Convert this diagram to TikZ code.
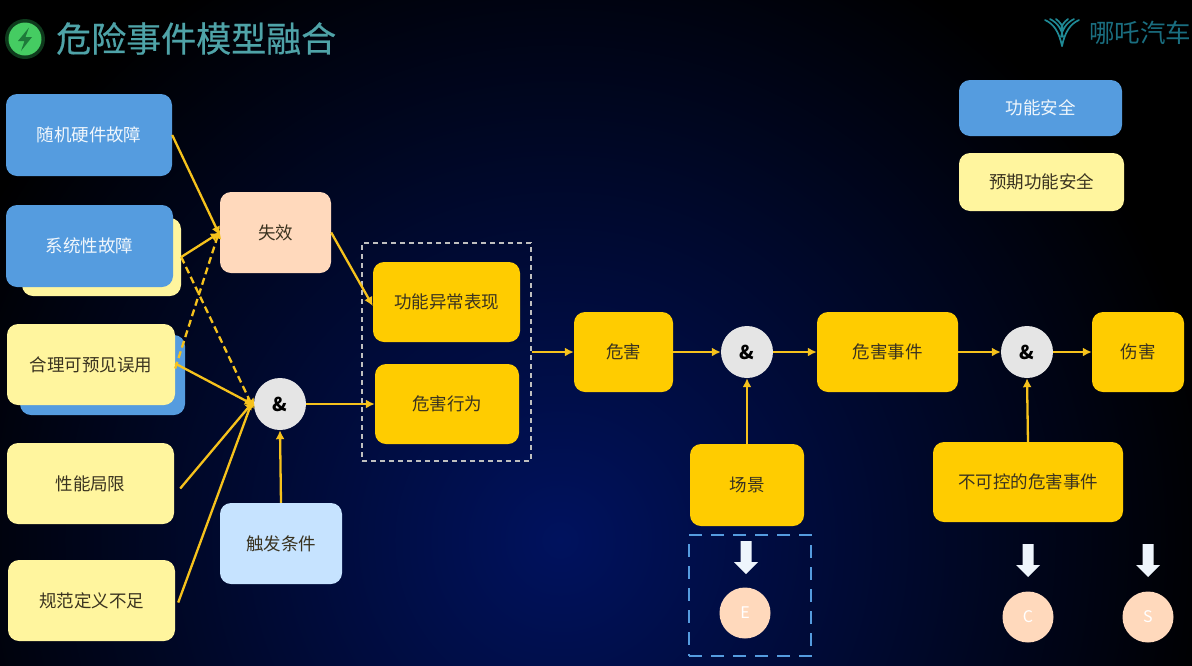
\documentclass[tikz,border=0pt]{standalone}
\usepackage{fontspec}
\setmainfont{Noto Sans CJK SC}
\newfontfamily\titlefont[FakeBold=0.5]{Noto Sans CJK SC}
\usetikzlibrary{arrows.meta,calc}
\definecolor{cblue}{HTML}{559CDF}
\definecolor{cyel}{HTML}{FFF59E}
\definecolor{cgold}{HTML}{FFCC00}
\definecolor{cpeach}{HTML}{FFD9BC}
\definecolor{csky}{HTML}{C6E3FF}
\definecolor{cline}{HTML}{F6C21C}
\definecolor{cteal}{HTML}{4FA3A8}
\definecolor{ctext}{HTML}{3A3320}
\definecolor{navyglow}{HTML}{00125E}
\definecolor{clogo}{HTML}{1F8A96}
\definecolor{cbrand}{HTML}{1A6E80}
\definecolor{cicon}{HTML}{45CC62}
\definecolor{cbolt}{HTML}{1E7A3A}
\definecolor{cglow}{HTML}{0E3A1C}
\tikzset{
  box/.style n args={4}{draw=none,rounded corners=11pt,inner sep=0pt,
    minimum width=#3-#1,minimum height=#4-#2,anchor=center,font=\fontsize{17.5}{19}\selectfont},
  bluebox/.style={fill=cblue,text=white!92!cblue},
  yelbox/.style={fill=cyel,text=ctext},
  goldbox/.style={fill=cgold,text=ctext},
  andgate/.style={circle,fill=white!90!black,text=black,minimum size=52pt,inner sep=0pt,font=\fontsize{19}{20}\selectfont\bfseries},
  letter/.style={circle,fill=cpeach,text=white,minimum size=51pt,inner sep=0pt,font=\fontsize{16}{18}\selectfont},
  conn/.style={draw=cline,line width=2.3pt,-{Latex[length=9pt,width=9pt]}},
  dconn/.style={conn,dash pattern=on 7pt off 4pt},
  downarrow/.style={fill=white!90!cblue,draw=none}
}
\newcommand{\bx}[7]{\node[box={#3}{#4}{#5}{#6},#7] (#1) at ({(#3+#5)/2},{(#4+#6)/2}) {#2};}
\begin{document}
\begin{tikzpicture}[x=1pt,y=-1pt]
\useasboundingbox (0,0) rectangle (1192,665);
\fill[black] (-3,-3) rectangle (1195,668);
\begin{scope}
\clip (-3,-3) rectangle (1195,668);
\shade[inner color=navyglow, outer color=black] (560,540) circle (660pt);
\end{scope}
% title
\fill[cglow] (25,39) circle (20);
\fill[cicon] (25,39) circle (16.5);
\fill[cbolt] (29,27.5) -- (18,41) -- (24.5,41) -- (21,51) -- (32,37) -- (25.5,37) -- cycle;
\node[anchor=west,text=cteal,inner sep=0pt,font=\fontsize{35}{38}\titlefont] (title) at (56,38.5) {危险事件模型融合};
% logo
\begin{scope}[draw=clogo,line width=1.7pt,fill=none,line cap=round]
\draw (1045,20) .. controls (1054,24) and (1059,32) .. (1062,46);
\draw (1050,19) .. controls (1058,23) and (1062,30) .. (1063,37);
\draw (1056,19) .. controls (1060,22) and (1063,26) .. (1063,30);
\draw (1079,20) .. controls (1070,24) and (1065,32) .. (1062,46);
\draw (1074,19) .. controls (1066,23) and (1062,30) .. (1061,37);
\draw (1068,19) .. controls (1064,22) and (1061,26) .. (1061,30);
\end{scope}
\node[anchor=west,text=cbrand,inner sep=0pt,font=\fontsize{25.5}{27}\selectfont] (brand) at (1089,33) {哪吒汽车};
% legend
\bx{leg1}{功能安全}{959}{80}{1122}{136}{bluebox}
\bx{leg2}{预期功能安全}{959}{153}{1124}{211}{yelbox}
% left column
\bx{randf}{随机硬件故障}{6}{94}{172}{176}{bluebox}
\bx{sysb}{}{22}{218}{181}{296}{fill=cyel}
\bx{sysf}{系统性故障}{6}{205}{173}{287}{bluebox}
\bx{misb}{}{20}{335}{185}{415}{fill=cblue}
\bx{misu}{合理可预见误用}{7}{324}{175}{405}{yelbox}
\bx{perf}{性能局限}{7}{443}{174}{524}{yelbox}
\bx{spec}{规范定义不足}{8}{560}{175}{641}{yelbox}
\bx{fail}{失效}{220}{192}{331}{273}{fill=cpeach,text=ctext}
\bx{trig}{触发条件}{220}{503}{342}{584}{fill=csky,text=ctext}
\node[andgate] (and1) at (280,404) {\&};
% dashed group
\node[draw=white!75!black,line width=1.2pt,dash pattern=on 5pt off 4pt,minimum width=169pt,minimum height=218pt,inner sep=0pt] (group) at (446.5,352) {};
\bx{func}{功能异常表现}{373}{262}{520}{342}{goldbox}
\bx{beh}{危害行为}{375}{364}{519}{444}{goldbox}
\bx{haz}{危害}{574}{312}{673}{392}{goldbox}
\node[andgate] (and2) at (747,352) {\&};
\bx{evt}{危害事件}{817}{312}{958}{392}{goldbox}
\node[andgate] (and3) at (1027,352) {\&};
\bx{harm}{伤害}{1092}{312}{1184}{392}{goldbox}
\bx{scene}{场景}{690}{444}{804}{526}{goldbox}
\bx{unc}{不可控的危害事件}{933}{442}{1123}{522}{goldbox}
% E group
\node[draw=cblue,line width=2.5pt,dash pattern=on 13pt off 9pt,minimum width=122pt,minimum height=121pt,inner sep=0pt] (egroup) at (750,595.5) {};
\node[letter] (E) at (745,613) {E};
\node[letter] (C) at (1028,617) {C};
\node[letter] (S) at (1148,617) {S};
% white arrows
\foreach \n/\x/\ya in {a/746/541,b/1028/544,c/1148/544}{
  \fill[downarrow] (\x-5.5,\ya) -- (\x+5.5,\ya) -- (\x+5.5,\ya+21) -- (\x+12,\ya+21) -- (\x,\ya+33) -- (\x-12,\ya+21) -- (\x-5.5,\ya+21) -- cycle;
}
% connectors
\path[conn] (randf.east) -- ([yshift=-3pt]fail.west);
\path[conn] (sysb.east) -- ([yshift=0pt]fail.west);
\path[dconn] (sysb.east) -- ([yshift=-5pt]and1.west);
\path[dconn] ([yshift=-4pt]misu.east) -- ([yshift=3pt]fail.west);
\path[conn] ([yshift=1pt]misu.east) -- ([yshift=-1pt]and1.west);
\path[conn] ([xshift=6pt,yshift=-5pt]perf.east) -- ([yshift=3pt]and1.west);
\path[conn] ([xshift=3pt,yshift=-2pt]spec.east) -- ([yshift=7pt]and1.west);
\path[conn] (trig.north) -- (and1.south);
\path[conn] (and1.east) -- (beh.west);
\path[conn] (fail.east) -- ([yshift=-4pt]func.west);
\path[conn] (group.east) -- (haz.west);
\path[conn] (haz.east) -- (and2.west);
\path[conn] (and2.east) -- (evt.west);
\path[conn] (evt.east) -- (and3.west);
\path[conn] (and3.east) -- (harm.west);
\path[conn] (scene.north) -- (and2.south);
\path[conn] (unc.north) -- (and3.south);
\end{tikzpicture}
\end{document}
